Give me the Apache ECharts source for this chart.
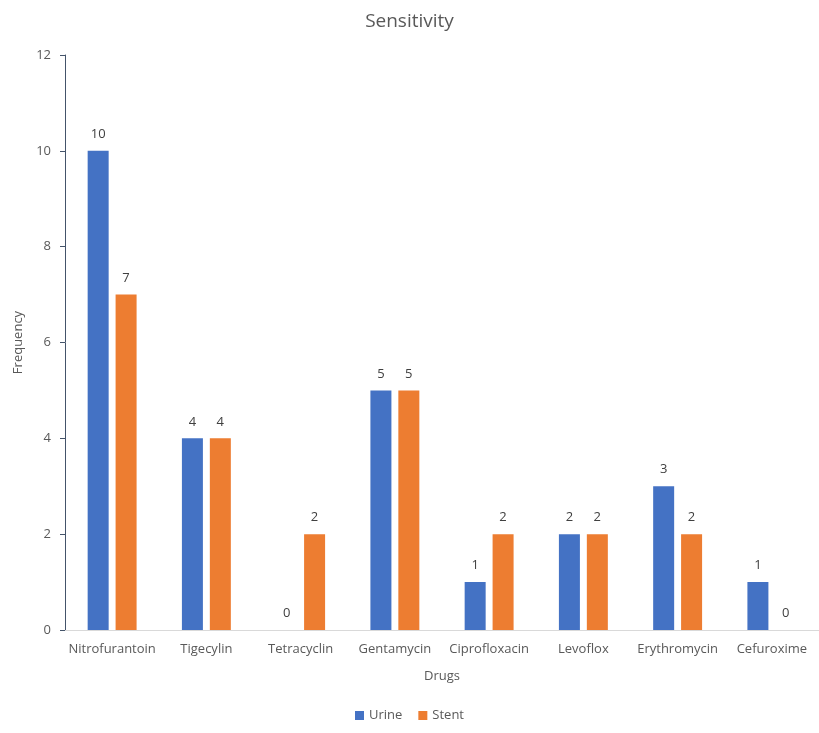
<!DOCTYPE html>
<html>
<head>
<meta charset="utf-8">
<script src="https://cdn.jsdelivr.net/npm/echarts@6/dist/echarts.min.js"></script>
<style>
  html, body { margin: 0; padding: 0; background: #fff; }
  #chart { width: 819px; height: 733px; }
</style>
</head>
<body>
<div id="chart"></div>
<script>
// Antibiotic sensitivity counts by sample source
const drugs = ['Nitrofurantoin', 'Tigecylin', 'Tetracyclin', 'Gentamycin', 'Ciprofloxacin', 'Levoflox', 'Erythromycin', 'Cefuroxime'];
const urine = [10, 4, 0, 5, 1, 2, 3, 1];
const stent = [7, 4, 2, 5, 2, 2, 2, 0];
const yTicks = { min: 0, max: 12, interval: 2 };

const textColor = '#595959';
const font = 'Open Sans, sans-serif';

const chart = echarts.init(document.getElementById('chart'));
const labelStyle = {
  show: true,
  position: 'top',
  distance: 10,
  color: '#404040',
  fontSize: 13,
  fontFamily: font
};

chart.setOption({
  animation: false,
  title: {
    text: 'Sensitivity',
    left: 'center',
    top: 7,
    textStyle: { color: textColor, fontSize: 19, fontWeight: 'normal', fontFamily: font }
  },
  legend: {
    bottom: 6,
    left: 'center',
    itemWidth: 9,
    itemHeight: 9,
    itemGap: 16,
    icon: 'rect',
    textStyle: { color: textColor, fontSize: 13, fontFamily: font },
    data: ['Urine', 'Stent']
  },
  grid: { left: 65, right: -4, top: 55, bottom: 103, containLabel: false },
  xAxis: {
    type: 'category',
    data: drugs,
    name: 'Drugs',
    nameLocation: 'middle',
    nameGap: 40,
    nameTextStyle: { color: textColor, fontSize: 13, fontFamily: font },
    axisLine: { show: true, lineStyle: { color: '#d9d9d9', width: 1 } },
    axisTick: { show: false },
    axisLabel: { color: textColor, fontSize: 13, fontFamily: font, margin: 13, interval: 0 }
  },
  yAxis: {
    type: 'value',
    min: yTicks.min,
    max: yTicks.max,
    interval: yTicks.interval,
    name: 'Frequency',
    nameLocation: 'middle',
    nameGap: 40,
    nameRotate: 90,
    nameTextStyle: { color: textColor, fontSize: 13, fontFamily: font },
    axisLine: { show: true, lineStyle: { color: '#44546a', width: 1 } },
    axisTick: { show: true, length: 5, lineStyle: { color: '#44546a' } },
    splitLine: { show: false },
    axisLabel: { color: textColor, fontSize: 13, fontFamily: font, margin: 14 }
  },
  series: [
    {
      name: 'Urine',
      type: 'bar',
      data: urine,
      barWidth: 21,
      barGap: '33%',
      itemStyle: { color: '#4472C4' },
      label: labelStyle
    },
    {
      name: 'Stent',
      type: 'bar',
      data: stent,
      barWidth: 21,
      itemStyle: { color: '#ED7D31' },
      label: labelStyle
    }
  ]
});
</script>
</body>
</html>
